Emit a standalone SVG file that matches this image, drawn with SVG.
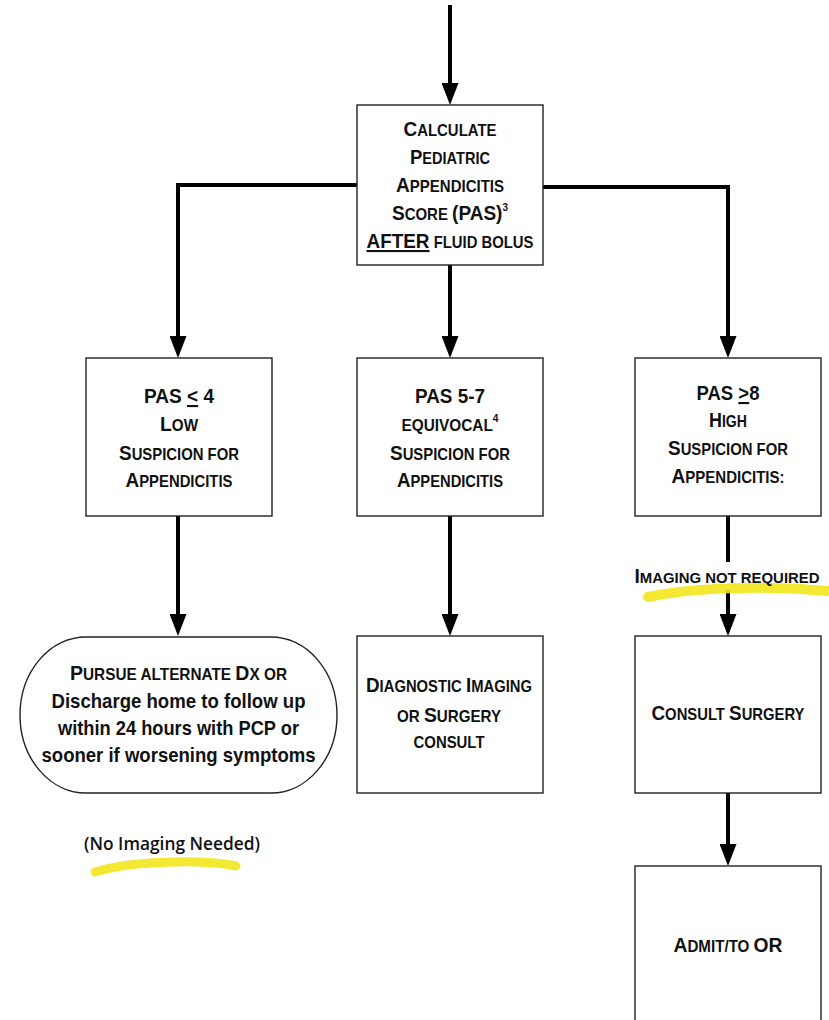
<svg xmlns="http://www.w3.org/2000/svg" width="829" height="1020" viewBox="0 0 829 1020">
<style>
text{font-family:"Liberation Sans",Arial,sans-serif;font-weight:bold;fill:#111;text-anchor:middle}
.b{font-size:21px}
.s{font-size:16.5px}
.box{fill:#fff;stroke:#222;stroke-width:1.4}
.con{fill:none;stroke:#000;stroke-width:4}
.hl{fill:none;stroke:#f2e51c;stroke-linecap:round;opacity:0.9}
.note{font-family:"Open Sans","Liberation Sans",sans-serif;font-weight:600;font-size:18.5px}
</style>
<defs>
<marker id="ah" viewBox="0 0 22 17" refX="12" refY="8.5" markerWidth="22" markerHeight="17" markerUnits="userSpaceOnUse" orient="auto">
<path d="M0,0 L22,8.5 L0,17 Z" fill="#000"/>
</marker>
</defs>
<rect width="829" height="1020" fill="#fff"/>

<g id="connectors">
<path class="con" d="M450,5 V95" marker-end="url(#ah)"/>
<path class="con" d="M357,185 H178 V348" marker-end="url(#ah)"/>
<path class="con" d="M543,187 H728 V348" marker-end="url(#ah)" stroke-width="5"/>
<path class="con" d="M450,265 V348" marker-end="url(#ah)"/>
<path class="con" d="M178,516 V626" marker-end="url(#ah)"/>
<path class="con" d="M450,516 V626" marker-end="url(#ah)"/>
<path class="con" d="M728,516 V562"/>
<path class="con" d="M728,590 V626" marker-end="url(#ah)"/>
<path class="con" d="M728,793 V856" marker-end="url(#ah)"/>
</g>

<g id="highlights">
<path class="hl" stroke-width="10" d="M648,597 C690,588 760,585 829,591"/>
<path class="hl" stroke-width="7" d="M384,706 C415,697 465,694 503,698"/>
<path class="hl" stroke-width="9" d="M95,872 C130,861 200,859 236,866"/>
</g>

<g id="n-calc">
<rect class="box" x="357" y="105" width="186" height="160"/>
<text x="450" y="136" textLength="93" lengthAdjust="spacingAndGlyphs"><tspan class="b">C</tspan><tspan class="s">ALCULATE</tspan></text>
<text x="450" y="164" textLength="80" lengthAdjust="spacingAndGlyphs"><tspan class="b">P</tspan><tspan class="s">EDIATRIC</tspan></text>
<text x="450" y="192" textLength="108" lengthAdjust="spacingAndGlyphs"><tspan class="b">A</tspan><tspan class="s">PPENDICITIS</tspan></text>
<text x="450" y="220" textLength="116" lengthAdjust="spacingAndGlyphs"><tspan class="b">S</tspan><tspan class="s">CORE </tspan><tspan class="b">(PAS)</tspan><tspan font-size="11" dy="-9">3</tspan></text>
<text x="450" y="248" textLength="167" lengthAdjust="spacingAndGlyphs"><tspan class="b" text-decoration="underline">AFTER</tspan><tspan class="s"> FLUID BOLUS</tspan></text>
</g>

<g id="n-low">
<rect class="box" x="86" y="358" width="186" height="158"/>
<text x="179" y="403" textLength="70" lengthAdjust="spacingAndGlyphs" class="b">PAS <tspan text-decoration="underline">&lt;</tspan> 4</text>
<text x="179" y="431" textLength="38" lengthAdjust="spacingAndGlyphs"><tspan class="b">L</tspan><tspan class="s">OW</tspan></text>
<text x="179" y="460" textLength="120" lengthAdjust="spacingAndGlyphs"><tspan class="b">S</tspan><tspan class="s">USPICION FOR</tspan></text>
<text x="179" y="487" textLength="107" lengthAdjust="spacingAndGlyphs"><tspan class="b">A</tspan><tspan class="s">PPENDICITIS</tspan></text>
</g>

<g id="n-equiv">
<rect class="box" x="357" y="358" width="186" height="158"/>
<text x="450" y="403" textLength="70" lengthAdjust="spacingAndGlyphs" class="b">PAS 5-7</text>
<text x="450" y="431" textLength="97" lengthAdjust="spacingAndGlyphs"><tspan class="s">EQUIVOCAL</tspan><tspan font-size="11" dy="-9">4</tspan></text>
<text x="450" y="460" textLength="120" lengthAdjust="spacingAndGlyphs"><tspan class="b">S</tspan><tspan class="s">USPICION FOR</tspan></text>
<text x="450" y="487" textLength="106" lengthAdjust="spacingAndGlyphs"><tspan class="b">A</tspan><tspan class="s">PPENDICITIS</tspan></text>
</g>

<g id="n-high">
<rect class="box" x="635" y="358" width="186" height="158"/>
<text x="728" y="400" textLength="63" lengthAdjust="spacingAndGlyphs" class="b">PAS <tspan text-decoration="underline">&gt;</tspan>8</text>
<text x="728" y="427" textLength="38" lengthAdjust="spacingAndGlyphs"><tspan class="b">H</tspan><tspan class="s">IGH</tspan></text>
<text x="728" y="455" textLength="120" lengthAdjust="spacingAndGlyphs"><tspan class="b">S</tspan><tspan class="s">USPICION FOR</tspan></text>
<text x="728" y="483" textLength="113" lengthAdjust="spacingAndGlyphs"><tspan class="b">A</tspan><tspan class="s">PPENDICITIS:</tspan></text>
</g>

<g id="label-imaging">
<text x="727" y="583" textLength="185" lengthAdjust="spacingAndGlyphs"><tspan font-size="20">I</tspan><tspan font-size="15.5">MAGING NOT REQUIRED</tspan></text>
</g>

<g id="n-pursue">
<rect class="box" x="20" y="637" width="317" height="156" rx="66" ry="78"/>
<text x="178.5" y="680" textLength="217" lengthAdjust="spacingAndGlyphs"><tspan class="b">P</tspan><tspan class="s">URSUE ALTERNATE </tspan><tspan class="b">D</tspan><tspan class="s">X OR</tspan></text>
<text x="178.5" y="708" textLength="254" lengthAdjust="spacingAndGlyphs" class="b">Discharge home to follow up</text>
<text x="178.5" y="735" textLength="241" lengthAdjust="spacingAndGlyphs" class="b">within 24 hours with PCP or</text>
<text x="178.5" y="762" textLength="274" lengthAdjust="spacingAndGlyphs" class="b">sooner if worsening symptoms</text>
</g>

<g id="note-noimaging">
<text class="note" x="172" y="850" textLength="176" lengthAdjust="spacingAndGlyphs">(No Imaging Needed)</text>
</g>

<g id="n-diag">
<rect class="box" x="357" y="636" width="186" height="157"/>
<text x="449" y="692" textLength="166" lengthAdjust="spacingAndGlyphs"><tspan class="b">D</tspan><tspan class="s">IAGNOSTIC </tspan><tspan class="b">I</tspan><tspan class="s">MAGING</tspan></text>
<text x="449" y="722" textLength="104" lengthAdjust="spacingAndGlyphs"><tspan class="s">OR </tspan><tspan class="b">S</tspan><tspan class="s">URGERY</tspan></text>
<text x="449" y="748" textLength="71" lengthAdjust="spacingAndGlyphs"><tspan class="s">CONSULT</tspan></text>
</g>

<g id="n-consult">
<rect class="box" x="635" y="636" width="186" height="157"/>
<text x="728" y="720" textLength="153" lengthAdjust="spacingAndGlyphs"><tspan class="b">C</tspan><tspan class="s">ONSULT </tspan><tspan class="b">S</tspan><tspan class="s">URGERY</tspan></text>
</g>

<g id="n-admit">
<rect class="box" x="635" y="866" width="186" height="170"/>
<text x="728" y="952" textLength="109" lengthAdjust="spacingAndGlyphs"><tspan class="b">A</tspan><tspan class="s">DMIT/TO </tspan><tspan class="b">OR</tspan></text>
</g>
</svg>
